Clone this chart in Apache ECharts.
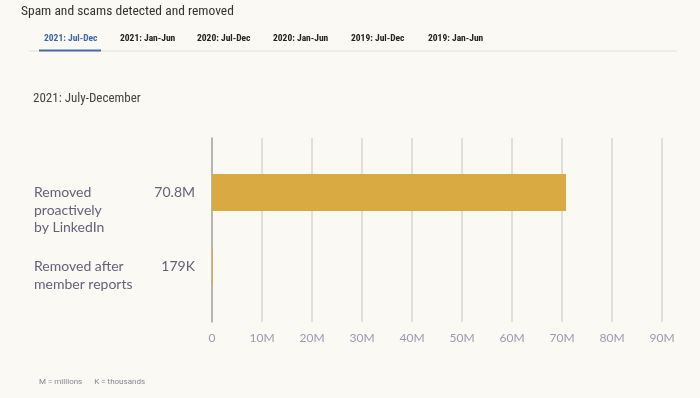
<!DOCTYPE html>
<html>
<head>
<meta charset="utf-8">
<script src="https://cdn.jsdelivr.net/npm/echarts@6/dist/echarts.min.js"></script>
<style>
html,body{margin:0;padding:0;background:#faf9f3;}
#main{width:700px;height:398px;}
</style>
</head>
<body>
<div id="main"></div>
<script>
var categories = ['Removed\nproactively\nby LinkedIn', 'Removed after\nmember reports'];
var values = [70.8, 0.179];
var valueLabels = ['70.8M', '179K'];
var xTicks = ['0', '10M', '20M', '30M', '40M', '50M', '60M', '70M', '80M', '90M'];
var tabs = ['2021: Jul-Dec', '2021: Jan-Jun', '2020: Jul-Dec', '2020: Jan-Jun', '2019: Jul-Dec', '2019: Jan-Jun'];
var tabX = [44, 120, 197, 273, 351, 428];

var narrow = '"Liberation Sans Narrow", "Roboto Condensed", Roboto, sans-serif';
var chart = echarts.init(document.getElementById('main'));

var titles = [
	{text: 'Spam and scams detected and removed', left: 21, top: 5, padding: 0,
		textStyle: {fontFamily: narrow, fontSize: 13.5, fontWeight: 'normal', color: '#333'}},
	{text: '2021: July-December', left: 33, top: 92, padding: 0,
		textStyle: {fontFamily: narrow, fontSize: 13, fontWeight: 'normal', color: '#444'}},
	{text: 'M = millions      K = thousands', left: 39, top: 378, padding: 0,
		textStyle: {fontFamily: 'Roboto', fontSize: 8, fontWeight: 'normal', color: '#8a8494'}}
];
// tabs
var tabTitles = tabs.map(function(t, i){
	return {text: t, left: tabX[i], top: 34, padding: 0,
		textStyle: {fontFamily: narrow, fontSize: 9.5, fontWeight: 'bold', color: i == 0 ? '#3f65a8' : '#222'}};
});
titles = titles.concat(tabTitles);

var option = {
	backgroundColor: '#faf9f3',
	animation: false,
	title: titles,
	graphic: [
		{type: 'rect', shape: {x: 29, y: 50.5, width: 648, height: 1}, style: {fill: '#e2e1dc'}},
		{type: 'rect', shape: {x: 39, y: 49.5, width: 62, height: 2}, style: {fill: '#4a6aa8'}}
	],
	grid: [
		{left: 212, right: 38, top: 138, height: 184},   // gridlines + axis labels
		{left: 212, right: 38, top: 155.5, height: 148}  // bars
	],
	xAxis: [
		{gridIndex: 0, type: 'value', min: 0, max: 90, interval: 10,
			axisLine: {show: false}, axisTick: {show: false},
			splitLine: {lineStyle: {color: '#d8d6d0', width: 1.5}},
			axisLabel: {margin: 10, color: '#9c9ab2', fontFamily: 'Lato', fontSize: 12,
				formatter: function(v){ return xTicks[Math.round(v / 10)]; }}},
		{gridIndex: 1, type: 'value', min: 0, max: 90, interval: 10, show: false}
	],
	yAxis: [
		{gridIndex: 0, type: 'value', min: 0, max: 1,
			axisLine: {show: true, lineStyle: {color: '#a9a9a9', width: 1.5}},
			axisTick: {show: false}, axisLabel: {show: false}, splitLine: {show: false}},
		{gridIndex: 1, type: 'category', data: categories, inverse: true,
			axisLine: {show: false}, axisTick: {show: false},
			axisLabel: {
				margin: 17,
				formatter: function(v, i){
					var lines = v.split('\n');
					var out = [];
					for (var k = 1; k < lines.length; k++) out.push('{n| }');
					out.push('{n|' + lines[0] + '}{v|' + valueLabels[i] + '}');
					for (var k = 1; k < lines.length; k++) out.push('{n|' + lines[k] + '}{v| }');
					return out.join('\n');
				},
				rich: {
					n: {width: 113, align: 'left', fontFamily: 'Lato', fontSize: 14, lineHeight: 17.5, color: '#63627a'},
					v: {width: 48, align: 'right', fontFamily: 'Lato', fontSize: 14, lineHeight: 17.5, color: '#63627a'}
				}
			}}
	],
	series: [{
		type: 'bar',
		xAxisIndex: 1,
		yAxisIndex: 1,
		data: values,
		barWidth: 37,
		itemStyle: {color: '#d9a942'},
		silent: true
	}]
};
chart.setOption(option);
</script>
</body>
</html>
